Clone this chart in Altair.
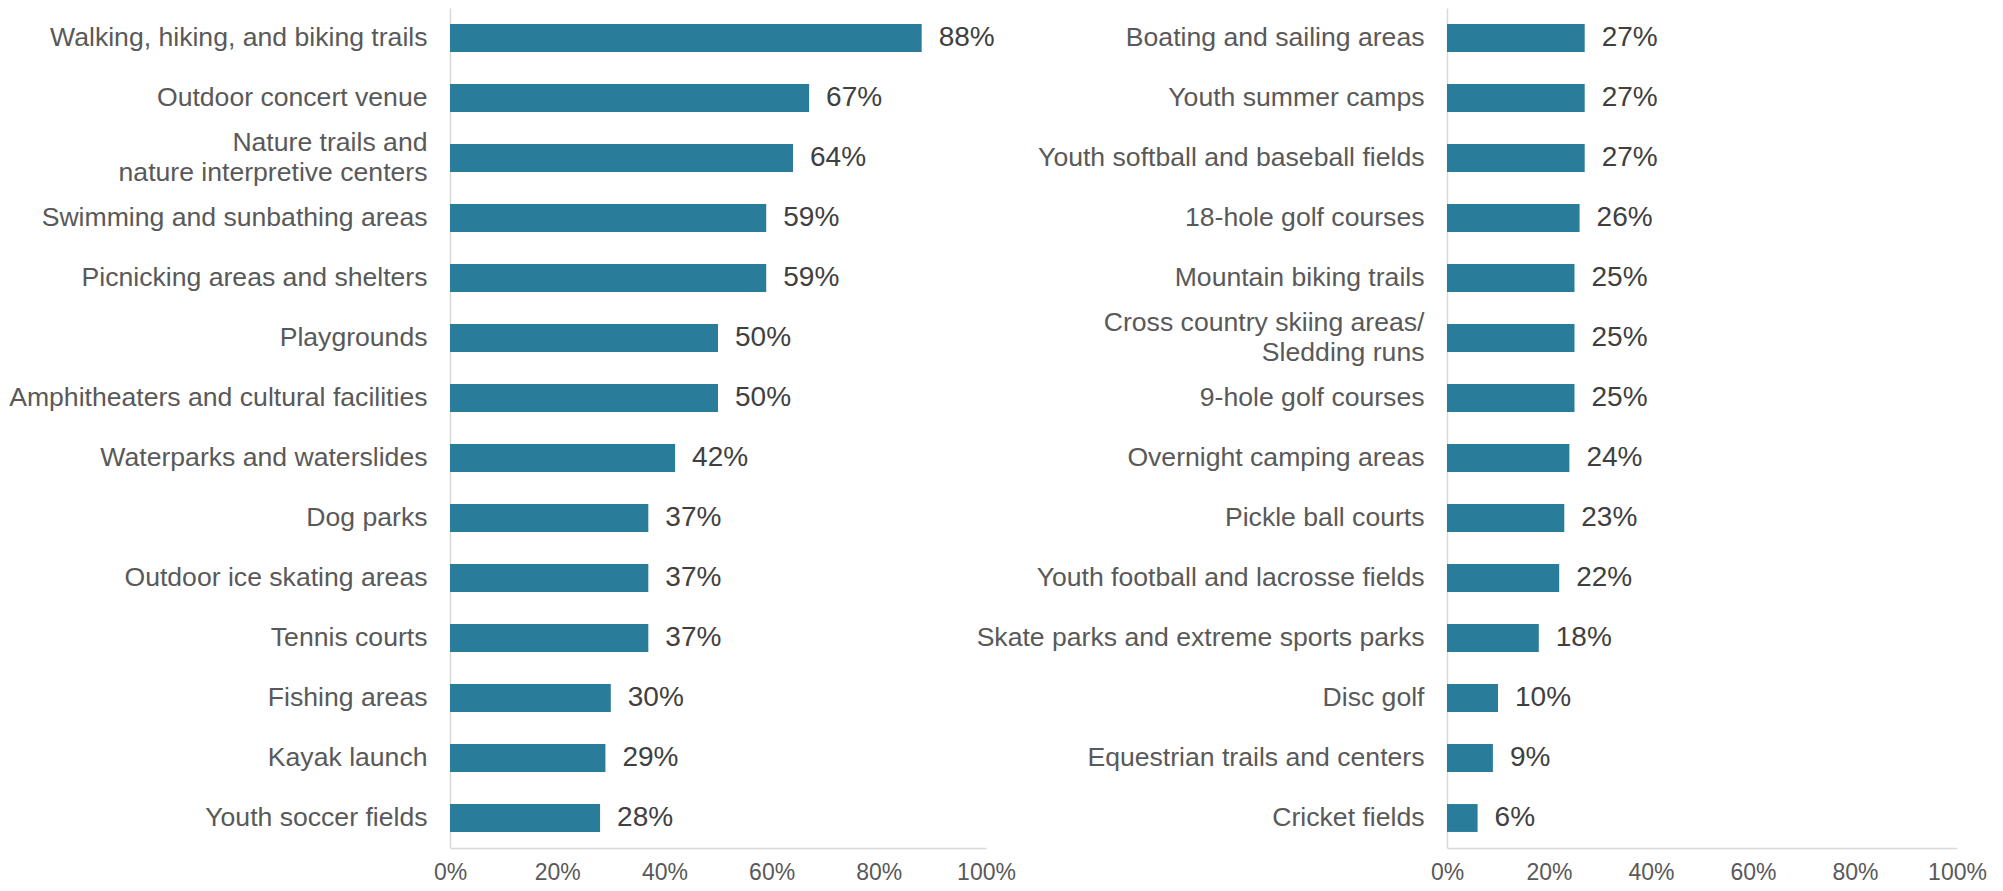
import altair as alt
import pandas as pd

left_cats = [
    "Walking, hiking, and biking trails",
    "Outdoor concert venue",
    "Nature trails and|nature interpretive centers",
    "Swimming and sunbathing areas",
    "Picnicking areas and shelters",
    "Playgrounds",
    "Amphitheaters and cultural facilities",
    "Waterparks and waterslides",
    "Dog parks",
    "Outdoor ice skating areas",
    "Tennis courts",
    "Fishing areas",
    "Kayak launch",
    "Youth soccer fields",
]
left_vals = [88, 67, 64, 59, 59, 50, 50, 42, 37, 37, 37, 30, 29, 28]

right_cats = [
    "Boating and sailing areas",
    "Youth summer camps",
    "Youth softball and baseball fields",
    "18-hole golf courses",
    "Mountain biking trails",
    "Cross country skiing areas/|Sledding runs",
    "9-hole golf courses",
    "Overnight camping areas",
    "Pickle ball courts",
    "Youth football and lacrosse fields",
    "Skate parks and extreme sports parks",
    "Disc golf",
    "Equestrian trails and centers",
    "Cricket fields",
]
right_vals = [27, 27, 27, 26, 25, 25, 25, 24, 23, 22, 18, 10, 9, 6]

tick_values = [0, 0.2, 0.4, 0.6, 0.8, 1.0]

BAR = "#2A7C9B"
FONT = "Liberation Sans"


def panel(cats, vals, w, extent):
    df = pd.DataFrame({"cat": cats, "val": [v / 100 for v in vals]})
    yscale = alt.Scale(paddingInner=0.535, paddingOuter=0.2675)
    y = alt.Y(
        "cat:N", sort=None, title=None, scale=yscale,
        axis=alt.Axis(
            labelExpr="split(datum.label, '|')",
            labelFontSize=26.6, labelColor="#595959", labelPadding=23,
            labelFont=FONT, ticks=False, domainColor="#D9D9D9",
            domainWidth=1.5, labelLineHeight=30, labelLimit=700,
            labelOffset={"condition": {"test": "indexof(datum.value, '|') >= 0", "value": -15}, "value": 0},
            minExtent=extent, maxExtent=extent,
        ),
    )
    x = alt.X(
        "val:Q", title=None,
        scale=alt.Scale(domain=[0, 1], nice=False),
        axis=alt.Axis(
            format="%", values=tick_values, labelFontSize=23,
            labelColor="#595959", labelPadding=13, labelFont=FONT,
            ticks=False, grid=False, domainColor="#D9D9D9",
            domainWidth=1.5, labelFlush=False,
        ),
    )
    base = alt.Chart(df)
    bars = base.mark_bar(color=BAR).encode(x=x, y=y)
    text = base.mark_text(
        align="left", baseline="middle", dx=17, fontSize=28,
        color="#404040", font=FONT,
    ).encode(
        x="val:Q",
        y=alt.Y("cat:N", sort=None),
        text=alt.Text("val:Q", format=".0%"),
    )
    return (bars + text).properties(width=w, height=840)


left = panel(left_cats, left_vals, 536, 442)
right = panel(right_cats, right_vals, 510, 420)

chart = (
    alt.hconcat(left, right, spacing=461, bounds="flush")
    .properties(padding=0)
    .configure_view(stroke=None)
)

chart.save("out.html", embed_options={"renderer": "svg", "actions": False})
